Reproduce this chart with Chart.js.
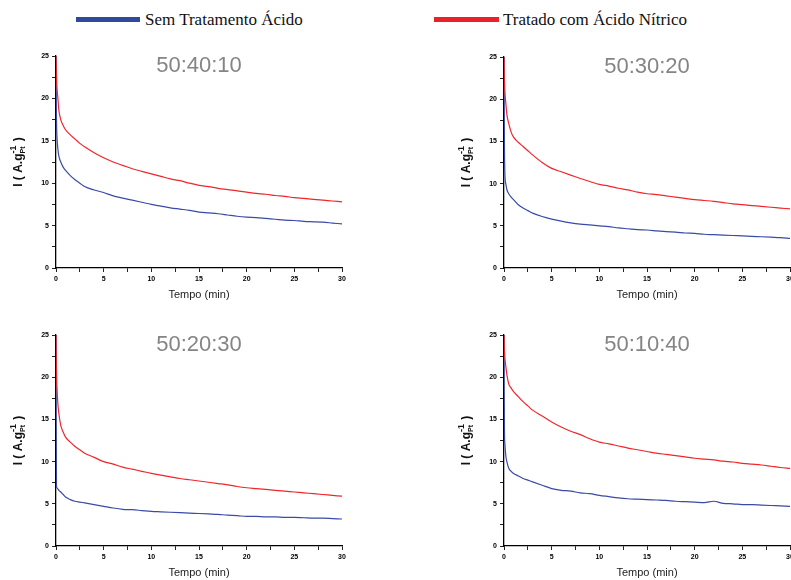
<!DOCTYPE html>
<html>
<head>
<meta charset="utf-8">
<script src="https://cdn.jsdelivr.net/npm/chart.js@4"></script>
<style>
  body { margin: 0; background: #fff; width: 791px; height: 580px; position: relative; overflow: hidden; }
  canvas { position: absolute; }
  .bar { position: absolute; height: 5px; }
  .lbl { position: absolute; font: 17px "Liberation Serif", "Times New Roman", serif; color: #111; line-height: 20px; white-space: nowrap; }
</style>
</head>
<body>
<div class="bar" id="barBlue" style="left:76px; top:17px; width:64px; background:#2f4a9c"></div>
<div class="lbl" id="lblBlue" style="left:145px; top:10px"></div>
<div class="bar" id="barRed" style="left:434px; top:17px; width:65px; background:#ee2027"></div>
<div class="lbl" id="lblRed" style="left:503px; top:10px"></div>

<canvas id="c0" width="372" height="285" style="left:0px; top:30px"></canvas>
<canvas id="c1" width="343" height="285" style="left:448px; top:30px"></canvas>
<canvas id="c2" width="372" height="271" style="left:0px; top:309px"></canvas>
<canvas id="c3" width="343" height="271" style="left:448px; top:309px"></canvas>

<script>
// data
const seriesNames = ['Sem Tratamento Ácido', 'Tratado com Ácido Nítrico'];
const panelNames = ['50:40:10', '50:30:20', '50:20:30', '50:10:40'];
const xTitle = 'Tempo (min)';
const xTicks = [0, 5, 10, 15, 20, 25, 30];
const yTicks = [0, 5, 10, 15, 20, 25];

const tempo = [0, 0.02, 0.05, 0.1, 0.2, 0.3, 0.5, 0.75, 1, 1.5, 2, 2.5, 3, 4, 5, 6, 7, 8, 9, 10,
  11, 12, 13, 14, 15, 16, 17, 18, 19, 20, 21, 22, 23, 24, 25, 26, 27, 28, 29, 30];

const sem_50_40_10 = [25, 21, 17.5, 15.5, 14.0, 13.2, 12.5, 11.9, 11.5, 10.9, 10.4, 10.0, 9.6, 9.2, 8.9, 8.5, 8.25, 8.0, 7.75, 7.5,
  7.3, 7.1, 6.95, 6.8, 6.6, 6.5, 6.4, 6.25, 6.1, 6.0, 5.95, 5.85, 5.75, 5.65, 5.6, 5.5, 5.45, 5.4, 5.3, 5.2];
const hno3_50_40_10 = [25, 24, 22.8, 21.3, 20.0, 18.6, 17.5, 16.8, 16.3, 15.7, 15.2, 14.7, 14.3, 13.6, 13.0, 12.5, 12.1, 11.7, 11.4, 11.1,
  10.8, 10.5, 10.3, 10.0, 9.75, 9.6, 9.4, 9.25, 9.1, 8.95, 8.8, 8.7, 8.55, 8.45, 8.3, 8.2, 8.1, 8.0, 7.9, 7.8];

const sem_50_30_20 = [25, 19, 14, 11.0, 9.9, 9.3, 8.8, 8.4, 8.1, 7.5, 7.1, 6.8, 6.5, 6.1, 5.8, 5.55, 5.35, 5.2, 5.1, 5.0,
  4.9, 4.75, 4.65, 4.55, 4.5, 4.4, 4.3, 4.25, 4.15, 4.1, 4.0, 3.95, 3.9, 3.85, 3.8, 3.75, 3.7, 3.65, 3.6, 3.5];
const hno3_50_30_20 = [25, 23.5, 22, 20.8, 19.4, 18.2, 17.1, 16.1, 15.5, 14.9, 14.4, 13.9, 13.4, 12.5, 11.8, 11.4, 11.0, 10.6, 10.25, 9.9,
  9.7, 9.45, 9.25, 9.0, 8.8, 8.7, 8.55, 8.4, 8.25, 8.1, 8.0, 7.9, 7.75, 7.6, 7.5, 7.4, 7.3, 7.2, 7.1, 7.0];

const sem_50_20_30 = [25, 15, 7.0, 6.9, 6.75, 6.6, 6.4, 6.1, 5.8, 5.5, 5.3, 5.2, 5.1, 4.9, 4.7, 4.5, 4.35, 4.3, 4.2, 4.1,
  4.05, 4.0, 3.95, 3.9, 3.85, 3.8, 3.75, 3.65, 3.6, 3.5, 3.5, 3.45, 3.45, 3.4, 3.4, 3.35, 3.3, 3.3, 3.25, 3.2];
const hno3_50_20_30 = [25, 22.5, 20.5, 18.8, 16.8, 15.7, 14.3, 13.5, 12.9, 12.3, 11.8, 11.4, 11.0, 10.5, 10.0, 9.7, 9.35, 9.1, 8.85, 8.6,
  8.4, 8.2, 8.0, 7.85, 7.7, 7.55, 7.4, 7.25, 7.05, 6.9, 6.8, 6.7, 6.6, 6.5, 6.4, 6.3, 6.2, 6.1, 6.0, 5.9];

const sem_50_10_40 = [25, 18, 13.5, 12.0, 10.6, 10.0, 9.2, 8.85, 8.6, 8.3, 8.0, 7.8, 7.6, 7.2, 6.8, 6.6, 6.5, 6.3, 6.2, 6.0,
  5.85, 5.7, 5.6, 5.55, 5.5, 5.45, 5.4, 5.3, 5.25, 5.2, 5.15, 5.3, 5.05, 5.0, 4.9, 4.9, 4.85, 4.8, 4.75, 4.7];
const hno3_50_10_40 = [25, 24, 23, 22.2, 21.2, 20.3, 19.2, 18.7, 18.3, 17.7, 17.1, 16.6, 16.1, 15.4, 14.7, 14.1, 13.6, 13.2, 12.7, 12.3,
  12.1, 11.85, 11.6, 11.4, 11.2, 11.0, 10.85, 10.7, 10.55, 10.4, 10.3, 10.2, 10.05, 9.95, 9.8, 9.7, 9.6, 9.45, 9.3, 9.2];

const semSeries = [sem_50_40_10, sem_50_30_20, sem_50_20_30, sem_50_10_40];
const hno3Series = [hno3_50_40_10, hno3_50_30_20, hno3_50_20_30, hno3_50_10_40];

const blue = '#3a4aa6';
const red = '#f0262b';

// page placement of each plot area (left, top, right, bottom)
const plotBoxes = [
  [56, 56, 342, 268],
  [504, 57, 790, 268],
  [56, 335, 342, 546],
  [504, 335, 790, 546]
];

document.getElementById('lblBlue').textContent = seriesNames[0];
document.getElementById('lblRed').textContent = seriesNames[1];

const tickFont = { family: '"Liberation Sans", Arial, sans-serif', size: 7, weight: 'bold' };

const textPlugin = {
  id: 'panelText',
  afterDraw(chart) {
    const { ctx, chartArea } = chart;
    const cx = (chartArea.left + chartArea.right) / 2;
    const cy = (chartArea.top + chartArea.bottom) / 2;
    ctx.save();
    // panel title
    ctx.fillStyle = '#858585';
    ctx.font = '22px "Liberation Sans", Arial, sans-serif';
    ctx.textAlign = 'center';
    ctx.textBaseline = 'middle';
    ctx.fillText(chart.options.panelName, cx, chartArea.top + 10);
    // x title
    ctx.fillStyle = '#222';
    ctx.font = '11px "Liberation Sans", Arial, sans-serif';
    ctx.fillText(xTitle, cx, chartArea.bottom + 27);
    // y title, with Pt subscript and -1 superscript
    ctx.translate(chartArea.left - 37, cy);
    ctx.rotate(-Math.PI / 2);
    ctx.textAlign = 'left';
    const main = 'I ( A.g';
    const big = 'bold 12px "Liberation Sans", Arial, sans-serif';
    const small = 'bold 9px "Liberation Sans", Arial, sans-serif';
    const tiny = 'bold 7px "Liberation Sans", Arial, sans-serif';
    ctx.font = big; const w1 = ctx.measureText(main).width; const w3 = ctx.measureText(' )').width;
    ctx.font = small; const wSup = ctx.measureText('-1').width;
    ctx.font = tiny; const wSub = ctx.measureText('Pt').width;
    const w2 = Math.max(wSup, wSub) + 1;
    let x = -(w1 + w2 + w3) / 2;
    ctx.fillStyle = '#111';
    ctx.font = big; ctx.fillText(main, x, 0);
    x += w1;
    ctx.font = small; ctx.fillText('-1', x, -5);
    ctx.font = tiny; ctx.fillText('Pt', x, 4);
    x += w2;
    ctx.font = big; ctx.fillText(' )', x, 0);
    ctx.restore();
  }
};

plotBoxes.forEach((box, i) => {
  const canvas = document.getElementById('c' + i);
  const cLeft = parseFloat(canvas.style.left);
  const cTop = parseFloat(canvas.style.top);
  const yWidth = box[0] - cLeft;
  const xHeight = cTop + canvas.height - box[3];

  new Chart(canvas.getContext('2d'), {
    type: 'line',
    data: {
      datasets: [
        {
          label: seriesNames[1],
          data: tempo.map((t, k) => ({ x: t, y: hno3Series[i][k] })),
          borderColor: red,
          borderWidth: 1.2,
          pointRadius: 0,
          cubicInterpolationMode: 'monotone'
        },
        {
          label: seriesNames[0],
          data: tempo.map((t, k) => ({ x: t, y: semSeries[i][k] })),
          borderColor: blue,
          borderWidth: 1.2,
          pointRadius: 0,
          cubicInterpolationMode: 'monotone'
        }
      ]
    },
    options: {
      panelName: panelNames[i],
      responsive: false,
      animation: false,
      events: [],
      layout: {
        padding: { left: 0, top: box[1] - cTop, right: cLeft + canvas.width - box[2], bottom: 0 }
      },
      plugins: { legend: { display: false }, tooltip: { enabled: false } },
      scales: {
        x: {
          type: 'linear',
          min: 0,
          max: 30,
          afterBuildTicks: s => { s.ticks = [];
            for (let v = xTicks[0]; v <= xTicks[xTicks.length - 1]; v += 2.5) s.ticks.push({ value: v }); },
          afterFit: s => { s.height = xHeight; s.paddingLeft = 0; s.paddingRight = 0; },
          ticks: {
            autoSkip: false,
            maxRotation: 0,
            padding: 3,
            color: '#000',
            font: tickFont,
            callback: v => xTicks.includes(v) ? v : ''
          },
          grid: { drawOnChartArea: false, tickLength: 4, tickColor: '#222' },
          border: { color: '#000', width: 1.3 }
        },
        y: {
          min: 0,
          max: 25,
          afterBuildTicks: s => { s.ticks = [];
            for (let v = yTicks[0]; v <= yTicks[yTicks.length - 1]; v += 2.5) s.ticks.push({ value: v }); },
          afterFit: s => { s.width = yWidth; s.paddingTop = 0; s.paddingBottom = 0; },
          ticks: {
            autoSkip: false,
            padding: 3,
            color: '#000',
            font: tickFont,
            callback: v => yTicks.includes(v) ? v : ''
          },
          grid: { drawOnChartArea: false, tickLength: 4, tickColor: '#222' },
          border: { color: '#000', width: 1.3 }
        }
      }
    },
    plugins: [textPlugin]
  });
});
</script>
</body>
</html>
